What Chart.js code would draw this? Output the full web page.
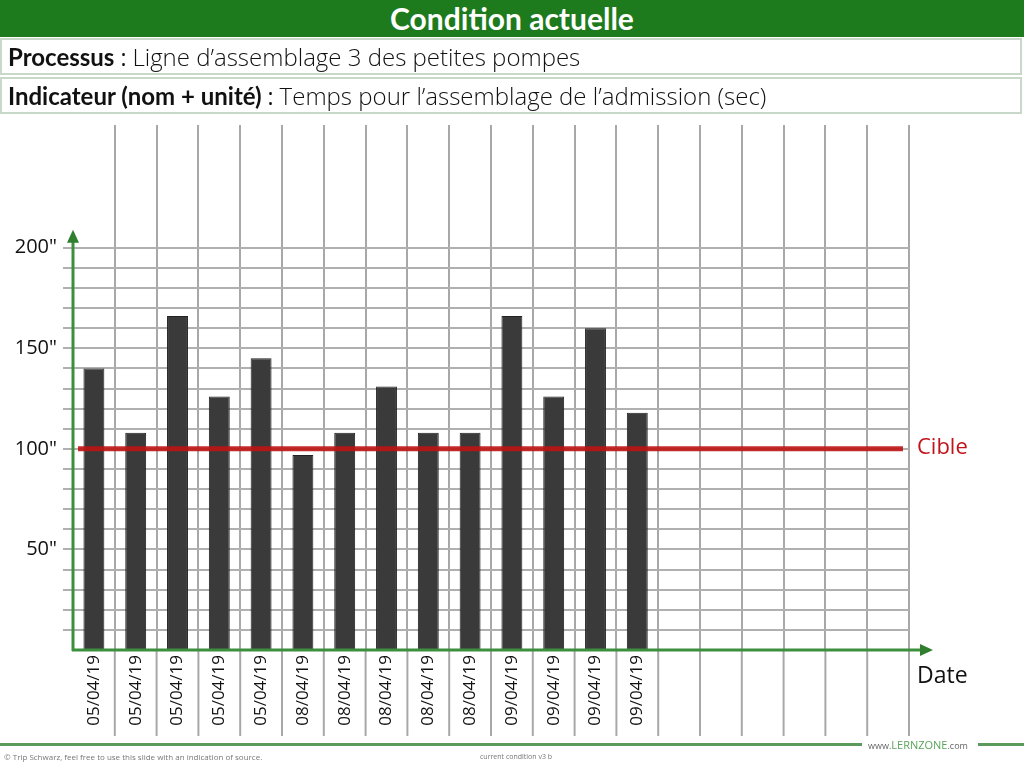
<!DOCTYPE html>
<html>
<head>
<meta charset="utf-8">
<script src="https://cdn.jsdelivr.net/npm/chart.js@4/dist/chart.umd.min.js"></script>
<style>
  body { margin: 0; background: #fff; width: 1024px; height: 771px; overflow: hidden; position: relative; font-family: "Open Sans", sans-serif; }
  #chart { position: absolute; left: 0; top: 0; }
  .titre { position: absolute; left: 0; top: 0; width: 1024px; height: 37px; background: #1d7a1d; color: #fff;
           font: bold 30px Lato, sans-serif; text-align: center; line-height: 37px; }
  .ligne { position: absolute; left: 0; width: 1018px; height: 33px; border: 2px solid #c9d9c9; background: #fff;
           font-size: 23px; line-height: 33px; color: #111; box-sizing: content-box; white-space: nowrap; }
  .ligne b { font-family: Lato, sans-serif; font-size: 24px; margin-left: 6px; }
  .ligne span { font-family: "Open Sans", sans-serif; font-weight: 300; font-size: 24px; }
  .pied { position: absolute; left: 0; top: 743px; width: 862px; height: 3px; background: #5a9a5a; }
  .pied2 { position: absolute; left: 978px; top: 743px; width: 46px; height: 3px; background: #5a9a5a; }
  .lz { position: absolute; left: 868px; top: 737px; font: 9px "Open Sans", sans-serif; color: #666; }
  .lz em { font-style: normal; color: #5aa55a; font-size: 11px; }
  .copy { position: absolute; left: 4px; top: 751px; font: 8px "Open Sans", sans-serif; color: #777; }
  .ver { position: absolute; left: 480px; top: 752px; font: 7px "Open Sans", sans-serif; color: #777; }
</style>
</head>
<body>
<canvas id="chart" width="1024" height="771"></canvas>
<div class="titre">Condition actuelle</div>
<div class="ligne" style="top:38px"><b>Processus</b> : <span>Ligne d’assemblage 3 des petites pompes</span></div>
<div class="ligne" style="top:77px"><b>Indicateur (nom + unité)</b> : <span>Temps pour l’assemblage de l’admission (sec)</span></div>
<div class="pied"></div>
<div class="pied2"></div>
<div class="lz">www.<em>LERNZONE</em>.com</div>
<div class="copy">© Trip Schwarz, feel free to use this slide with an indication of source.</div>
<div class="ver">current condition v3 b</div>
<script>
// données
var dates = ['05/04/19', '05/04/19', '05/04/19', '05/04/19', '05/04/19',
             '08/04/19', '08/04/19', '08/04/19', '08/04/19', '08/04/19',
             '09/04/19', '09/04/19', '09/04/19', '09/04/19',
             '', '', '', '', '', ''];
var temps = [140, 108, 166, 126, 145, 97, 108, 131, 108, 108, 166, 126, 160, 118];
var cible = 100;
var yLabels = [50, 100, 150, 200];
var yMax = 200;

var main = '"Open Sans", sans-serif';

var extras = {
    id: 'extras',
    beforeDatasetsDraw: function(chart) {
        var c = chart.ctx, x = chart.scales.x, a = chart.chartArea;
        var half = (x.getPixelForValue(1) - x.getPixelForValue(0)) / 2;
        c.save();
        c.strokeStyle = '#a8a8a8';
        c.lineWidth = 2;
        for (var i = 1; i <= dates.length; i++) {
            var px = x.getPixelForValue(i - 1) + half;
            c.beginPath();
            c.moveTo(px, a.bottom);
            c.lineTo(px, a.bottom + 86);
            c.stroke();
        }
        c.restore();
    },
    afterDatasetsDraw: function(chart) {
        var c = chart.ctx, y = chart.scales.y, a = chart.chartArea;
        var yc = y.getPixelForValue(cible);
        c.save();
        // ligne cible
        c.strokeStyle = 'rgba(190,20,20,0.9)';
        c.lineWidth = 5;
        c.beginPath();
        c.moveTo(a.left + 5, yc);
        c.lineTo(a.right - 6, yc);
        c.stroke();
        c.fillStyle = '#c0141a';
        c.font = '22px ' + main;
        c.textBaseline = 'middle';
        c.fillText('Cible', a.right + 8, yc - 1);

        // axes verts avec flèches
        var y0 = y.getPixelForValue(0), yTop = y.getPixelForValue(yMax) - 12;
        c.strokeStyle = '#3c8f3c';
        c.fillStyle = '#2f7f2f';
        c.lineWidth = 3;
        c.beginPath();
        c.moveTo(a.left, y0 + 1);
        c.lineTo(a.left, yTop + 6);
        c.moveTo(a.left - 1, y0);
        c.lineTo(a.right + 16, y0);
        c.stroke();
        c.beginPath();
        c.moveTo(a.left, yTop - 6);
        c.lineTo(a.left - 6, yTop + 7);
        c.lineTo(a.left + 6, yTop + 7);
        c.fill();
        c.beginPath();
        c.moveTo(a.right + 24, y0);
        c.lineTo(a.right + 11, y0 - 6);
        c.lineTo(a.right + 11, y0 + 6);
        c.fill();

        c.fillStyle = '#111';
        c.font = '23px ' + main;
        c.fillText('Date', a.right + 8, y0 + 26);
        c.restore();
    }
};

var chart = new Chart(document.getElementById('chart').getContext('2d'), {
    type: 'bar',
    data: {
        labels: dates,
        datasets: [{
            label: 'Temps',
            data: temps,
            backgroundColor: '#3a3a3a',
            borderColor: '#222',
            borderWidth: 1,
            barPercentage: 1,
            categoryPercentage: 0.5
        }]
    },
    plugins: [extras],
    options: {
        responsive: false,
        animation: false,
        layout: { padding: { left: 0, right: 115, top: 125, bottom: 0 } },
        plugins: { legend: { display: false }, tooltip: { enabled: false } },
        scales: {
            x: {
                offset: true,
                border: { display: false },
                grid: {
                    offset: true, lineWidth: 2, drawTicks: false,
                    color: function(ctx) { return ctx.index === 0 ? 'rgba(0,0,0,0)' : '#a8a8a8'; }
                },
                ticks: { autoSkip: false, minRotation: 90, maxRotation: 90, padding: 5,
                         color: '#111', font: { family: main, size: 17 } },
                afterFit: function(s) { s.height = 121; }
            },
            y: {
                min: 0,
                max: 261,
                border: { display: false },
                grid: {
                    lineWidth: 2,
                    tickLength: 10,
                    color: function(ctx) {
                        var v = ctx.tick ? ctx.tick.value : 0;
                        return (v > yMax || v == 0) ? 'rgba(0,0,0,0)' : '#b0b0b0';
                    }
                },
                ticks: {
                    stepSize: 10,
                    autoSkip: false,
                    maxTicksLimit: 40,
                    padding: 6,
                    color: '#111',
                    font: { family: main, size: 20 },
                    callback: function(v) { return yLabels.indexOf(v) >= 0 ? v + '"' : ''; }
                },
                afterFit: function(s) { s.width = 73; }
            }
        }
    }
});
</script>
</body>
</html>
